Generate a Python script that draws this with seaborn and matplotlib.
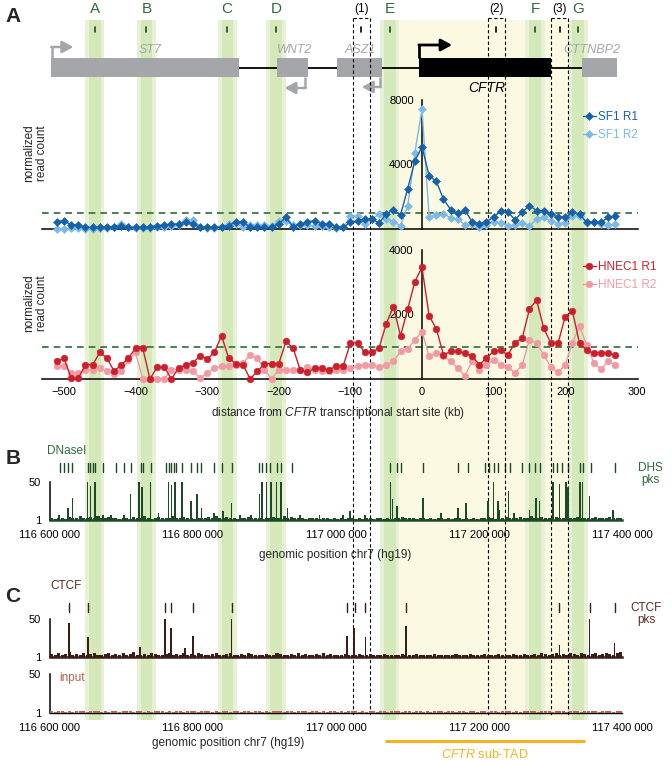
import matplotlib
matplotlib.use("Agg")
import matplotlib.pyplot as plt
import seaborn as sns
from matplotlib.patches import Rectangle

sns.set_theme(style="white")
plt.rcParams['font.family'] = ['Liberation Sans', 'DejaVu Sans']
plt.rcParams['mathtext.fontset'] = 'custom'
plt.rcParams['mathtext.it'] = 'Liberation Sans:italic'
plt.rcParams['mathtext.rm'] = 'Liberation Sans'

# ---------------- data ----------------
dist_kb = list(range(-510, 271, 10))  # 4C bins, kb from CFTR TSS
sf1_r1 = [455,520,250,250,100,100,100,145,145,210,
          100,100,100,145,210,250,310,310,455,310,
          100,100,100,145,210,455,455,100,100,100,
          100,310,725,145,310,455,520,310,310,145,
          100,415,520,620,620,370,930,1200,870,2500,
          4200,5100,3300,2950,1850,1200,970,1150,455,310,
          455,725,1140,1035,580,1035,1450,1140,1140,930,
          725,725,1035,930,415,415,415,725,830]
sf1_r2 = [30,30,40,60,30,30,40,60,100,310,
          150,80,60,60,100,150,200,250,580,580,
          150,80,60,100,310,310,150,250,250,250,
          200,500,500,250,250,250,200,200,100,60,
          100,790,790,310,600,930,600,450,200,1400,
          4700,7450,720,880,940,700,600,250,310,100,
          250,450,400,200,250,400,200,600,720,500,
          310,400,790,790,400,450,310,250,280]
hnec_r1 = [545,650,30,30,440,440,825,650,240,440,
           650,960,960,0,370,370,0,340,440,495,
           720,620,825,1340,650,475,440,0,240,475,
           475,475,1165,960,270,205,340,340,270,410,
           410,1110,1130,825,825,960,1710,2245,1340,2160,
           3020,3460,1960,1555,750,855,855,800,720,440,
           650,855,885,750,1130,1265,2160,2450,1575,1110,
           1110,1935,2110,1110,885,800,800,800,750]
hnec_r2 = [390,410,185,185,270,270,340,240,165,240,
           580,825,0,0,0,0,290,290,290,240,
           30,185,340,390,390,440,495,750,650,290,
           0,290,290,290,270,370,290,240,240,270,
           270,340,390,440,440,370,440,545,855,925,
           1215,1470,700,800,720,545,340,100,545,290,
           440,600,440,370,185,440,1215,1110,750,370,
           205,440,1110,1630,1060,495,310,545,440]
threshold = 1000

# genomic tracks (kb, hg19 chr7)
TSS_KB = 117120.017
dnase_pk_pos = [116613,116626,116632,116653,116657,116663,116674,116686,116704,116713,
                116725,116729,116741,116752,116766,116770,116775,116785,116797,116806,
                116812,116830,116842,116854,116866,116881,116893,116897,116903,116909,
                116917,116923,116932,116950,116977,117010,117019,117040,117076,117079,
                117085,117121,117147,117170,117181,117212,117220,117226,117228,117241,
                117249,117270,117279,117284,117303,117312,117321,117324,117341,117344,
                117354,117387]
dnase_pk_val = [7,16,29,50,45,50,8,7,8,34,
                50,44,50,10,50,46,50,50,25,34,
                16,10,12,23,7,7,34,50,50,50,
                50,50,16,7,8,8,12,7,50,28,
                19,29,10,16,23,25,50,25,14,39,
                10,14,30,26,50,48,50,44,50,50,
                32,14]
dhs_pos = [116614,116620,116626,116631,116653,116657,116661,116663,116674,116692,
           116704,116713,116727,116730,116741,116763,116766,116769,116773,116776,
           116785,116797,116806,116812,116830,116841,116854,116893,116897,116902,
           116908,116917,116923,116938,117076,117085,117091,117121,117170,117184,
           117208,117214,117220,117226,117236,117243,117259,117270,117278,117285,
           117303,117308,117315,117324,117341,117345,117356,117389]
ctcf_pk_pos = [116627,116654,116726,116761,116769,116789,116800,116854,117015,117025,
               117041,117098,117312,117354,117389]
ctcf_pk_val = [45,27,14,50,38,12,28,50,28,38,27,41,17,50,19]
ctcf_site_pos = [116627,116654,116761,116770,116800,116854,117015,117027,117041,117098,
                 117312,117354,117389]
bg_pos = [116602.5 + 5 * i for i in range(160)]
dnase_bg = [3,2,4,3,2,5,3,4,6,3, 4,5,3,6,4,3,5,4,3,2, 3,4,2,5,3,4,6,3,2,4, 5,3,4,3,6,4,3,5,4,3,
            2,3,4,3,5,4,6,3,4,5, 3,4,2,3,4,5,3,4,3,2, 4,3,5,4,3,6,4,5,3,4, 3,2,3,4,3,2,4,3,2,3,
            2,3,2,4,3,2,3,2,4,3, 2,3,4,2,3,2,4,3,5,3, 4,3,2,4,3,2,3,2,3,4, 2,3,2,3,4,2,3,2,3,2,
            3,4,5,3,2,4,3,5,3,4, 3,5,4,3,6,4,3,5,4,3, 4,5,3,4,6,3,4,5,3,4, 3,4,5,3,4,3,5,4,3,4]
ctcf_bg = [5,4,6,3,5,7,4,5,3,6, 4,5,6,4,3,5,6,4,5,3, 6,4,5,7,4,3,5,4,6,5, 3,4,5,6,4,5,3,6,4,5,
           4,6,5,3,4,5,6,4,3,5, 6,4,3,5,4,6,5,4,3,4, 5,3,4,6,5,4,3,5,4,6, 4,5,3,4,5,3,6,4,5,3,
           4,3,5,4,3,4,5,3,4,5, 3,4,3,5,4,3,4,3,5,4, 3,4,5,3,4,3,4,5,3,4, 4,3,4,5,3,4,3,5,4,3,
           4,5,3,4,3,5,4,3,4,5, 3,4,5,4,3,5,4,6,5,4, 5,6,4,5,3,6,5,4,6,5, 4,5,6,4,5,6,5,4,6,7]
input_bg = [3,2,3,4,2,3,2,3,4,3, 2,3,4,3,2,3,2,4,3,2, 3,4,3,2,3,4,2,3,2,3, 4,3,2,3,2,4,3,2,3,4,
            3,2,3,4,3,2,3,2,3,4, 2,3,4,2,3,3,2,4,3,2, 3,2,3,4,3,2,3,3,2,3, 4,3,2,3,4,2,3,2,3,3,
            2,3,2,3,4,3,2,3,2,3, 4,2,3,3,2,3,4,3,2,3, 3,2,3,4,2,3,2,3,4,3, 2,3,3,2,4,3,2,3,3,2,
            3,4,2,3,3,2,3,4,3,2, 3,2,3,4,3,3,2,3,4,3, 2,3,4,3,2,3,3,4,2,3, 3,4,3,2,3,4,3,2,3,4]

# annotation (kb from TSS)
band_labels = ['A', 'B', 'C', 'D', 'E', 'F', 'G']
band_kb = [-457, -385, -272, -204, -45, 158, 218]
box_labels = ['(1)', '(2)', '(3)']
box_kb = [(-96.4, -72.6), (92.2, 115.9), (180.2, 203.9)]
gene_names = ['ST7', 'WNT2', 'ASZ1', 'CFTR', 'CTTNBP2']
gene_start = [-517.5, -202.5, -118.7, -4.2, 223.5]
gene_end = [-255.6, -159.2, -55.9, 180.2, 272.3]
subtad_kb = (-52, 228)

# ---------------- layout ----------------
W, H = 672, 760
X0, PXKB = 422.0, 0.716
KB_LIM = ((0 - X0) / PXKB, (W - X0) / PXKB)
GEN_LIM = (TSS_KB + KB_LIM[0], TSS_KB + KB_LIM[1])

GREEN_T = '#2f6b3b'
DKGREEN = '#1d4a26'
BLUE1, BLUE2 = '#1760aa', '#7db9e6'
RED1, RED2 = '#cc1f2c', '#f29aa3'
GRAY = '#a5a6a9'
BROWN = '#3a1d17'
INPUTC = '#b3644a'
ORANGE = '#f3b31c'

fig = plt.figure(figsize=(W / 100, H / 100), dpi=100)
fig.patch.set_facecolor('white')


def T(x, y, s, **kw):
    return fig.text(x / W, 1 - y / H, s, **kw)


def add_ax(y_top, y_bot, xlim):
    ax = fig.add_axes([0, 1 - y_bot / H, 1, (y_bot - y_top) / H])
    ax.set_xlim(*xlim)
    ax.patch.set_visible(False)
    for s in ['top', 'right']:
        ax.spines[s].set_visible(False)
    ax.tick_params(colors='black', direction='out', length=4, width=1, labelsize=8, pad=2)
    for s in ['left', 'bottom']:
        ax.spines[s].set_color('black')
        ax.spines[s].set_linewidth(1.1)
    return ax


bg = fig.add_axes([0, 0, 1, 1])
bg.set_xlim(*KB_LIM)
bg.set_ylim(H, 0)
bg.axis('off')

# yellow sub-TAD and green bands
bg.add_patch(Rectangle((subtad_kb[0], 20), subtad_kb[1] - subtad_kb[0], 700,
                       color='#fcf9e2', lw=0, zorder=0.5))
for c in band_kb:
    bg.add_patch(Rectangle((c - 13.5, 20), 27, 700, color='#e6f1d5', lw=0, zorder=1))
    bg.add_patch(Rectangle((c - 8, 20), 16, 700, color='#d5e8ba', lw=0, zorder=1.1))
for lab, c in zip(band_labels, band_kb):
    bg.text(c, 9, lab, color=GREEN_T, fontsize=11, ha='center', va='center')
    bg.plot([c, c], [27, 32], color=DKGREEN, lw=1.2, zorder=3)
for lab, (a, b) in zip(box_labels, box_kb):
    m = (a + b) / 2
    bg.text(m, 9, lab, color='black', fontsize=8.5, ha='center', va='center')
    bg.plot([m, m], [27, 32], color='black', lw=1.2, zorder=3)
    for xx in (a, b):
        bg.plot([xx, xx], [18, 716], color='black', lw=0.8, ls=(0, (3, 2.2)), zorder=6)
    bg.plot([a, b], [18, 18], color='black', lw=0.8, ls=(0, (3, 2.2)), zorder=6)

# gene track
bg.plot([gene_end[0], gene_start[-1]], [68, 68], color='black', lw=1.3, zorder=3)
for name, s, e in zip(gene_names, gene_start, gene_end):
    col = 'black' if name == 'CFTR' else GRAY
    bg.add_patch(Rectangle((s, 58), e - s, 19, color=col, lw=0, zorder=4))
gx = {'ST7': -380, 'WNT2': -178, 'ASZ1': -86, 'CTTNBP2': 237}
for name, x in gx.items():
    bg.text(x, 50, name, color=GRAY, fontsize=9, fontstyle='italic', ha='center', va='center', zorder=5)
bg.text(91, 88, 'CFTR', color='black', fontsize=10, fontstyle='italic', ha='center', va='center', zorder=5)


def bent_arrow(x0, y0, y1, x1, col, lw):
    bg.plot([x0, x0], [y0, y1], color=col, lw=lw, solid_capstyle='butt', zorder=5)
    bg.annotate('', xy=(x1, y1), xytext=(x0 - (0.9 if x1 > x0 else -0.9), y1),
                arrowprops=dict(arrowstyle='-|>,head_length=0.55,head_width=0.3',
                                color=col, lw=lw, shrinkA=0, shrinkB=0), zorder=5)


bent_arrow(gene_start[0] + 0.6, 58, 47, -487, GRAY, 1.8)
bent_arrow(-163.4, 77, 88, -192, GRAY, 1.8)
bent_arrow(-58.7, 77, 87, -84, GRAY, 1.8)
bent_arrow(-3.5, 58, 45, 42, 'black', 2.0)

# ---------------- panel A: SF1 ----------------
ax1 = add_ax(95, 232, KB_LIM)
ax1.set_ylim((229 - 232) * 8000 / 129, (229 - 95) * 8000 / 129)
sns.lineplot(x=dist_kb, y=sf1_r2, ax=ax1, color=BLUE2, marker='D', markersize=4.2,
             mec=BLUE2, mew=0.4, lw=1.0, label='SF1 R2', clip_on=False, zorder=3)
sns.lineplot(x=dist_kb, y=sf1_r1, ax=ax1, color=BLUE1, marker='D', markersize=4.2,
             mec=BLUE1, mew=0.4, lw=1.0, label='SF1 R1', clip_on=False, zorder=4)
ax1.plot([-531, 302], [threshold, threshold], color=GREEN_T, lw=1.2, ls=(0, (4, 3)), zorder=2)
ax1.spines['left'].set_position(('data', 0))
ax1.spines['left'].set_bounds(0, 8000)
ax1.spines['bottom'].set_position(('data', 0))
ax1.spines['bottom'].set_bounds(-531, 302)
ax1.set_yticks([0, 2000, 4000, 6000, 8000])
ax1.set_yticklabels(['', '', '4000', '', '8000'])
ax1.set_xticks(range(-500, 301, 100))
ax1.set_xticklabels([])
h, l = ax1.get_legend_handles_labels()
ax1.legend(h[::-1], l[::-1], loc='upper left', bbox_to_anchor=(583 / W, 1 - 111 / H),
           bbox_transform=fig.transFigure, frameon=False, fontsize=8.5, labelcolor='linecolor',
           handlelength=1.1, handletextpad=0.15, labelspacing=0.5, borderpad=0, borderaxespad=0)

# ---------------- panel A: HNEC ----------------
ax2 = add_ax(245, 382, KB_LIM)
ax2.set_ylim((379 - 382) * 4000 / 129, (379 - 245) * 4000 / 129)
sns.lineplot(x=dist_kb, y=hnec_r2, ax=ax2, color=RED2, marker='o', markersize=4.8,
             mec=RED2, mew=0.4, lw=1.0, label='HNEC1 R2', clip_on=False, zorder=3)
sns.lineplot(x=dist_kb, y=hnec_r1, ax=ax2, color=RED1, marker='o', markersize=4.8,
             mec=RED1, mew=0.4, lw=1.0, label='HNEC1 R1', clip_on=False, zorder=4)
ax2.plot([-531, 302], [threshold, threshold], color=GREEN_T, lw=1.2, ls=(0, (4, 3)), zorder=2)
ax2.spines['left'].set_position(('data', 0))
ax2.spines['left'].set_bounds(0, 4000)
ax2.spines['bottom'].set_position(('data', 0))
ax2.spines['bottom'].set_bounds(-531, 302)
ax2.set_yticks([0, 2000, 4000])
ax2.set_yticklabels(['', '2000', '4000'])
ax2.set_xticks(range(-500, 301, 100))
ax2.set_xticklabels([f'\u2212{-v}' if v < 0 else str(v) for v in range(-500, 301, 100)])
h, l = ax2.get_legend_handles_labels()
ax2.legend(h[::-1], l[::-1], loc='upper left', bbox_to_anchor=(583 / W, 1 - 261 / H),
           bbox_transform=fig.transFigure, frameon=False, fontsize=8.5, labelcolor='linecolor',
           handlelength=1.1, handletextpad=0.15, labelspacing=0.5, borderpad=0, borderaxespad=0)

T(338, 413, r'distance from $\mathit{CFTR}$ transcriptional start site (kb)', fontsize=8.5,
  ha='center', va='center')
for yc in (153, 303):
    T(36, yc, 'normalized\nread count', fontsize=8.5, rotation=90, ha='center', va='center',
      linespacing=1.1)


# ---------------- genomic axes helper ----------------
def gen_axis(ax, labels=True):
    ax.set_ylim(1, 50)
    ax.spines['left'].set_position(('data', 116600))
    ax.spines['bottom'].set_bounds(116600, 117400)
    ax.set_yticks([1, 50])
    ax.set_yticklabels(['1', '50'])
    ticks = list(range(116600, 117401, 100))
    ax.set_xticks(ticks)
    if labels:
        ax.set_xticklabels([f'{t * 1000:,}'.replace(',', ' ') if (t - 116600) % 200 == 0 else ''
                            for t in ticks])
        ax.tick_params(axis='x', length=5.5)
    else:
        ax.tick_params(axis='x', length=0, labelbottom=False)


# ---------------- panel B ----------------
axB = add_ax(482, 520, GEN_LIM)
axB.bar(bg_pos, dnase_bg, width=4.2, color=DKGREEN, lw=0, zorder=3)
axB.bar(dnase_pk_pos, dnase_pk_val, width=2.4, color=DKGREEN, lw=0, zorder=3)
gen_axis(axB)
axB.spines['bottom'].set_color(DKGREEN)
axB.spines['bottom'].set_linewidth(1.8)
for p in dhs_pos:
    bg.plot([p - TSS_KB] * 2, [463, 472], color=DKGREEN, lw=1.0, zorder=4)
T(67, 451, 'DNaseI', color=GREEN_T, fontsize=8.5, ha='center', va='center')
T(650, 474, 'DHS\npks', color=GREEN_T, fontsize=8.5, ha='center', va='center', linespacing=1.1)
T(335, 555, 'genomic position chr7 (hg19)', fontsize=8.5, ha='center', va='center')

# ---------------- panel C ----------------
axC = add_ax(619, 657, GEN_LIM)
axC.bar(bg_pos, ctcf_bg, width=4.2, color=BROWN, lw=0, zorder=3)
axC.bar(ctcf_pk_pos, ctcf_pk_val, width=2.4, color=BROWN, lw=0, zorder=3)
gen_axis(axC, labels=False)
axC.spines['bottom'].set_color(BROWN)
axC.spines['bottom'].set_linewidth(1.8)
for p in ctcf_site_pos:
    bg.plot([p - TSS_KB] * 2, [603, 612], color=BROWN, lw=1.0, zorder=4)
T(66, 586, 'CTCF', color='#5a2b20', fontsize=8.5, ha='center', va='center')
T(646, 614, 'CTCF\npks', color='#5a2b20', fontsize=8.5, ha='center', va='center', linespacing=1.1)

axI = add_ax(674, 713, GEN_LIM)
axI.bar(bg_pos, input_bg, width=4.2, color=INPUTC, lw=0, zorder=3)
gen_axis(axI)
axI.spines['bottom'].set_linewidth(1.0)
T(72, 678, 'input', color=INPUTC, fontsize=8.5, ha='center', va='center')
T(228, 743, 'genomic position chr7 (hg19)', fontsize=8.5, ha='center', va='center')

# sub-TAD bar
bg.plot(list(subtad_kb), [741, 741], color=ORANGE, lw=2.2, solid_capstyle='butt', zorder=5)
T(485, 754, r'$\mathit{CFTR}$ sub-TAD', color=ORANGE, fontsize=9, ha='center', va='center')

# panel letters
for lab, y in (('A', 17), ('B', 458), ('C', 597)):
    T(13, y, lab, fontsize=15, fontweight='bold', ha='center', va='center')

fig.savefig('out.png', dpi=100, facecolor='white')
